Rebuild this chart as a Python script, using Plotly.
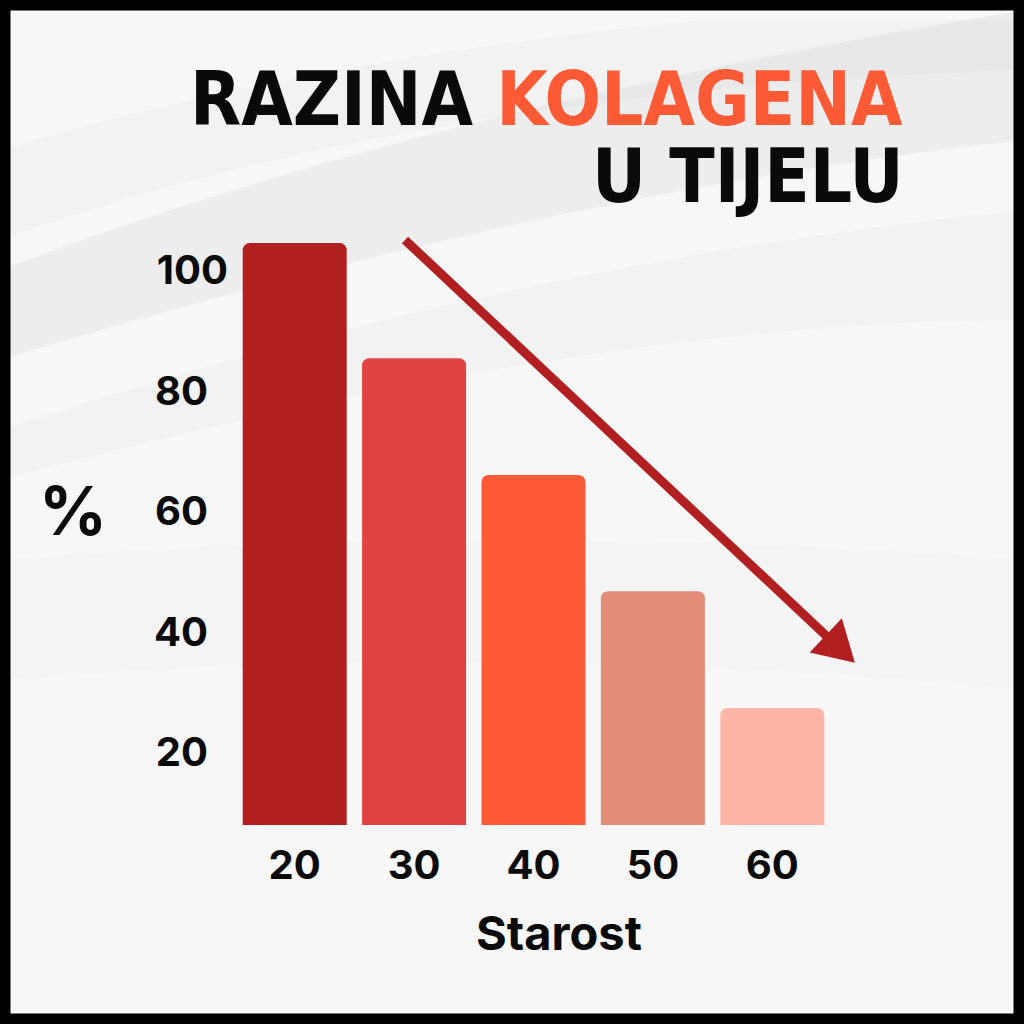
import plotly.graph_objects as go

# ---- data ----
ages = ["20", "30", "40", "50", "60"]
collagen = [104.5, 85.4, 66.0, 46.7, 27.3]
bar_colors = ["#b21f21", "#e04344", "#ff5a36", "#e28c7a", "#ffb5a5"]
y_tickvals = [20, 40, 60, 80, 100]
y_ticktext = ["20\u2002", "40\u2002", "60\u2002", "80\u2002", "100"]
title_line1_black = "RAZINA"
title_line1_orange = "KOLAGENA"
title_line2 = "U TIJELU"
x_title = "Starost"
y_title = "%"

# ---- layout geometry (pixels) ----
W = H = 1024
L, R, T, B = 235, 832, 210, 825


def px(x):
    return (x - L) / (R - L)


def py(y):
    return (B - y) / (B - T)


def path(points):
    s = ""
    for cmd, *c in points:
        if cmd == "Z":
            s += " Z"
            continue
        pts = [f"{px(c[i]):.4f},{py(c[i+1]):.4f}" for i in range(0, len(c), 2)]
        s += f" {cmd} " + " ".join(pts)
    return s.strip()


fig = go.Figure(
    go.Bar(
        x=ages,
        y=collagen,
        marker=dict(color=bar_colors, line=dict(width=0), cornerradius=7),
        hoverinfo="skip",
    )
)

shapes = []
# soft fabric-like background shading
band_specs = [
    ([("M", 0, 270), ("Q", 420, 110, 1024, 10), ("L", 1024, 140),
      ("Q", 560, 190, 0, 360), ("Z",)], "rgba(0,0,0,0.04)"),
    ([("M", 0, 150), ("Q", 300, 60, 700, 20), ("L", 1024, 20),
      ("L", 1024, 70), ("Q", 420, 90, 0, 240), ("Z",)], "rgba(0,0,0,0.018)"),
    ([("M", 0, 430), ("Q", 520, 260, 1024, 210), ("L", 1024, 320),
      ("Q", 600, 320, 0, 480), ("Z",)], "rgba(0,0,0,0.02)"),
    ([("M", 0, 560), ("Q", 500, 520, 1024, 560), ("L", 1024, 690),
      ("Q", 500, 640, 0, 680), ("Z",)], "rgba(0,0,0,0.012)"),
]
for pts, col in band_specs:
    shapes.append(dict(type="path", xref="paper", yref="paper", layer="below",
                       path=path(pts), fillcolor=col, line=dict(width=0)))

# arrow: shaft + head
tip = (852, 660)
start = (405, 240)
dx, dy = tip[0] - start[0], tip[1] - start[1]
ln = (dx * dx + dy * dy) ** 0.5
ux, uy = dx / ln, dy / ln
nx, ny = -uy, ux
head_len, head_half = 34, 20
bx, by = tip[0] - head_len * ux, tip[1] - head_len * uy
shapes.append(dict(type="line", xref="paper", yref="paper",
                   x0=px(start[0]), y0=py(start[1]), x1=px(bx + 4 * ux), y1=py(by + 4 * uy),
                   line=dict(color="#b21f21", width=9)))
shapes.append(dict(type="path", xref="paper", yref="paper",
                   path=path([("M", tip[0], tip[1]),
                              ("L", bx + head_half * nx, by + head_half * ny),
                              ("L", bx - head_half * nx, by - head_half * ny), ("Z",)]),
                   fillcolor="#b21f21", line=dict(color="#b21f21", width=4)))
# black frame
shapes.append(dict(type="rect", xref="paper", yref="paper",
                   x0=px(0), x1=px(W), y0=py(H), y1=py(0),
                   line=dict(color="#000000", width=21), fillcolor="rgba(0,0,0,0)"))

title_font = dict(family="DejaVu Sans Condensed, Liberation Sans Narrow, sans-serif",
                  size=74, color="#0a0a0a", weight="bold")
annotations = [
    dict(text=f"{title_line1_black} <span style='color:#ff5a36'>{title_line1_orange}</span>",
         xref="paper", yref="paper", x=px(905), y=py(99), xanchor="right", yanchor="middle",
         showarrow=False, font=title_font),
    dict(text=title_line2, xref="paper", yref="paper", x=px(905), y=py(176),
         xanchor="right", yanchor="middle", showarrow=False, font=title_font),
    dict(text=y_title, xref="paper", yref="paper", x=px(73), y=py(511),
         xanchor="center", yanchor="middle", showarrow=False,
         font=dict(family="Inter, sans-serif", size=67, color="#0a0a0a", weight="bold")),
    dict(text=x_title, xref="paper", yref="paper", x=px(559), y=py(932),
         xanchor="center", yanchor="middle", showarrow=False,
         font=dict(family="Inter, sans-serif", size=47, color="#0a0a0a", weight="bold")),
]

fig.update_layout(
    width=W, height=H,
    margin=dict(l=L, r=W - R, t=T, b=H - B, pad=0),
    paper_bgcolor="#f7f7f7",
    plot_bgcolor="rgba(0,0,0,0)",
    bargap=0.129,
    showlegend=False,
    hovermode=False,
    shapes=shapes,
    annotations=annotations,
    xaxis=dict(type="category", range=[-0.5, 4.5], showgrid=False, showline=False,
               zeroline=False, ticks="", ticklabelstandoff=13, fixedrange=True,
               tickfont=dict(family="Inter, sans-serif", size=40, color="#0a0a0a", weight="bold")),
    yaxis=dict(range=[7.88, 110], tickvals=y_tickvals, ticktext=y_ticktext,
               showgrid=False, showline=False, zeroline=False, ticks="",
               ticklabelstandoff=6, fixedrange=True,
               tickfont=dict(family="Inter, sans-serif", size=40, color="#0a0a0a", weight="bold")),
)

fig.write_html(
    "out.html",
    config={"displayModeBar": False},
    post_script="document.body.style.margin='0';document.body.style.overflow='hidden';",
)
